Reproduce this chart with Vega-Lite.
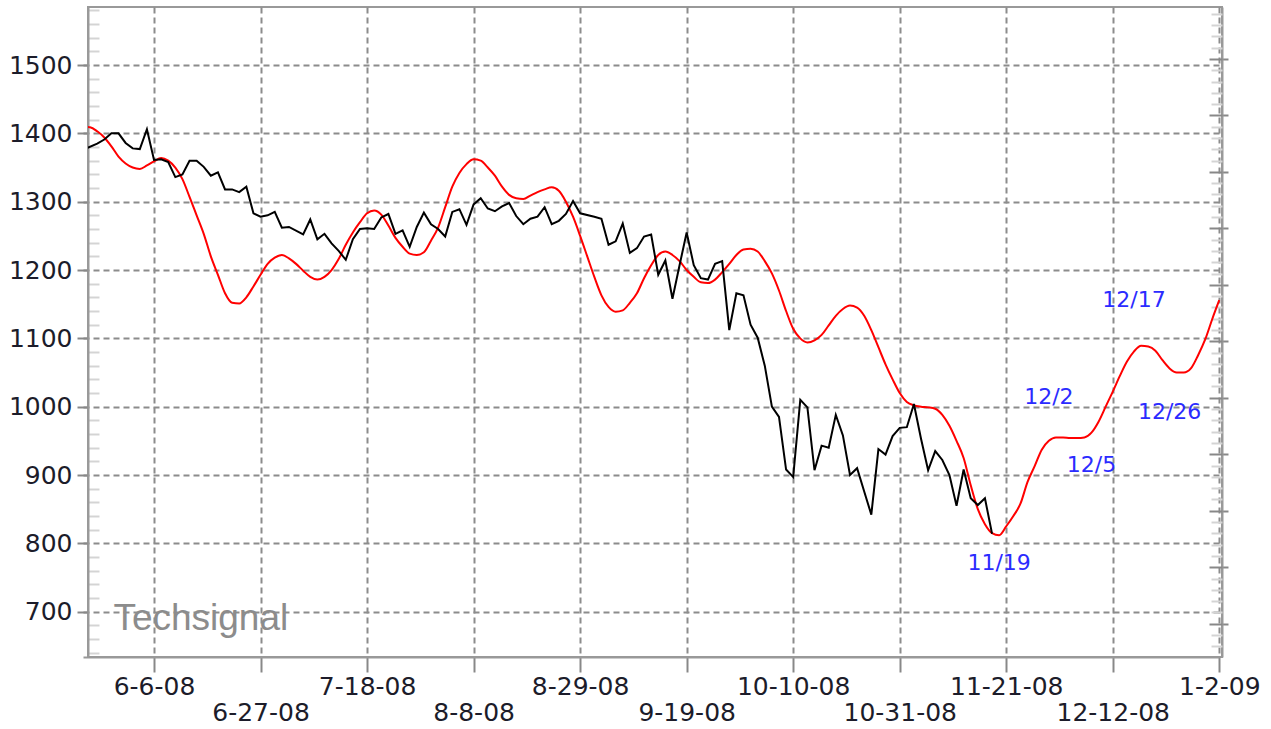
{
  "$schema": "https://vega.github.io/schema/vega-lite/v6.json",
  "width": 1134,
  "height": 650,
  "autosize": "none",
  "padding": {"left": 88, "top": 7, "right": 49, "bottom": 72},
  "background": "white",
  "config": {
    "view": {"stroke": "#999999", "strokeWidth": 2},
    "font": "DejaVu Sans",
    "axis": {"labelFont": "DejaVu Sans"}
  },
  "datasets": {
    "sp": [
      {"date": "2008-05-23", "value": 1376}, {"date": "2008-05-27", "value": 1385}, {"date": "2008-05-28", "value": 1391}, {"date": "2008-05-29", "value": 1400}, {"date": "2008-05-30", "value": 1400},
      {"date": "2008-06-02", "value": 1386}, {"date": "2008-06-03", "value": 1378}, {"date": "2008-06-04", "value": 1377}, {"date": "2008-06-05", "value": 1406}, {"date": "2008-06-06", "value": 1361},
      {"date": "2008-06-09", "value": 1362}, {"date": "2008-06-10", "value": 1358}, {"date": "2008-06-11", "value": 1336}, {"date": "2008-06-12", "value": 1340}, {"date": "2008-06-13", "value": 1360},
      {"date": "2008-06-16", "value": 1360}, {"date": "2008-06-17", "value": 1351}, {"date": "2008-06-18", "value": 1338}, {"date": "2008-06-19", "value": 1343}, {"date": "2008-06-20", "value": 1318},
      {"date": "2008-06-23", "value": 1318}, {"date": "2008-06-24", "value": 1314}, {"date": "2008-06-25", "value": 1322}, {"date": "2008-06-26", "value": 1283}, {"date": "2008-06-27", "value": 1278},
      {"date": "2008-06-30", "value": 1280}, {"date": "2008-07-01", "value": 1285}, {"date": "2008-07-02", "value": 1262}, {"date": "2008-07-03", "value": 1263},
      {"date": "2008-07-07", "value": 1252}, {"date": "2008-07-08", "value": 1274}, {"date": "2008-07-09", "value": 1245}, {"date": "2008-07-10", "value": 1253}, {"date": "2008-07-11", "value": 1239},
      {"date": "2008-07-14", "value": 1228}, {"date": "2008-07-15", "value": 1215}, {"date": "2008-07-16", "value": 1245}, {"date": "2008-07-17", "value": 1260}, {"date": "2008-07-18", "value": 1261},
      {"date": "2008-07-21", "value": 1260}, {"date": "2008-07-22", "value": 1277}, {"date": "2008-07-23", "value": 1282}, {"date": "2008-07-24", "value": 1253}, {"date": "2008-07-25", "value": 1258},
      {"date": "2008-07-28", "value": 1234}, {"date": "2008-07-29", "value": 1263}, {"date": "2008-07-30", "value": 1284}, {"date": "2008-07-31", "value": 1267}, {"date": "2008-08-01", "value": 1260},
      {"date": "2008-08-04", "value": 1249}, {"date": "2008-08-05", "value": 1285}, {"date": "2008-08-06", "value": 1289}, {"date": "2008-08-07", "value": 1266}, {"date": "2008-08-08", "value": 1296},
      {"date": "2008-08-11", "value": 1305}, {"date": "2008-08-12", "value": 1290}, {"date": "2008-08-13", "value": 1286}, {"date": "2008-08-14", "value": 1293}, {"date": "2008-08-15", "value": 1298},
      {"date": "2008-08-18", "value": 1279}, {"date": "2008-08-19", "value": 1267}, {"date": "2008-08-20", "value": 1275}, {"date": "2008-08-21", "value": 1278}, {"date": "2008-08-22", "value": 1292},
      {"date": "2008-08-25", "value": 1267}, {"date": "2008-08-26", "value": 1272}, {"date": "2008-08-27", "value": 1282}, {"date": "2008-08-28", "value": 1301}, {"date": "2008-08-29", "value": 1283},
      {"date": "2008-09-02", "value": 1278}, {"date": "2008-09-03", "value": 1275}, {"date": "2008-09-04", "value": 1237}, {"date": "2008-09-05", "value": 1242},
      {"date": "2008-09-08", "value": 1268}, {"date": "2008-09-09", "value": 1225}, {"date": "2008-09-10", "value": 1232}, {"date": "2008-09-11", "value": 1249}, {"date": "2008-09-12", "value": 1252},
      {"date": "2008-09-15", "value": 1193}, {"date": "2008-09-16", "value": 1214}, {"date": "2008-09-17", "value": 1158}, {"date": "2008-09-18", "value": 1207}, {"date": "2008-09-19", "value": 1255},
      {"date": "2008-09-22", "value": 1207}, {"date": "2008-09-23", "value": 1188}, {"date": "2008-09-24", "value": 1186}, {"date": "2008-09-25", "value": 1209}, {"date": "2008-09-26", "value": 1213},
      {"date": "2008-09-29", "value": 1112}, {"date": "2008-09-30", "value": 1166}, {"date": "2008-10-01", "value": 1163}, {"date": "2008-10-02", "value": 1120}, {"date": "2008-10-03", "value": 1101},
      {"date": "2008-10-06", "value": 1060}, {"date": "2008-10-07", "value": 1000}, {"date": "2008-10-08", "value": 985}, {"date": "2008-10-09", "value": 908}, {"date": "2008-10-10", "value": 897},
      {"date": "2008-10-13", "value": 1010}, {"date": "2008-10-14", "value": 999}, {"date": "2008-10-15", "value": 907}, {"date": "2008-10-16", "value": 943}, {"date": "2008-10-17", "value": 940},
      {"date": "2008-10-20", "value": 988}, {"date": "2008-10-21", "value": 958}, {"date": "2008-10-22", "value": 900}, {"date": "2008-10-23", "value": 910}, {"date": "2008-10-24", "value": 876},
      {"date": "2008-10-27", "value": 842}, {"date": "2008-10-28", "value": 938}, {"date": "2008-10-29", "value": 930}, {"date": "2008-10-30", "value": 957}, {"date": "2008-10-31", "value": 969},
      {"date": "2008-11-03", "value": 970}, {"date": "2008-11-04", "value": 1004}, {"date": "2008-11-05", "value": 953}, {"date": "2008-11-06", "value": 907}, {"date": "2008-11-07", "value": 935},
      {"date": "2008-11-10", "value": 922}, {"date": "2008-11-11", "value": 900}, {"date": "2008-11-12", "value": 855}, {"date": "2008-11-13", "value": 908}, {"date": "2008-11-14", "value": 866},
      {"date": "2008-11-17", "value": 856}, {"date": "2008-11-18", "value": 866}, {"date": "2008-11-19", "value": 814}
    ],
    "fc": [
      {"date": "2008-05-23", "value": 1410}, {"date": "2008-05-26", "value": 1409}, {"date": "2008-05-27", "value": 1403}, {"date": "2008-05-28", "value": 1394}, {"date": "2008-05-29", "value": 1381}, {"date": "2008-05-30", "value": 1366},
      {"date": "2008-06-02", "value": 1356}, {"date": "2008-06-03", "value": 1350}, {"date": "2008-06-04", "value": 1348}, {"date": "2008-06-05", "value": 1353}, {"date": "2008-06-06", "value": 1359},
      {"date": "2008-06-09", "value": 1364}, {"date": "2008-06-10", "value": 1360}, {"date": "2008-06-11", "value": 1350}, {"date": "2008-06-12", "value": 1333}, {"date": "2008-06-13", "value": 1307},
      {"date": "2008-06-16", "value": 1280}, {"date": "2008-06-17", "value": 1253}, {"date": "2008-06-18", "value": 1220}, {"date": "2008-06-19", "value": 1193}, {"date": "2008-06-20", "value": 1166},
      {"date": "2008-06-23", "value": 1152}, {"date": "2008-06-24", "value": 1151}, {"date": "2008-06-25", "value": 1160}, {"date": "2008-06-26", "value": 1176}, {"date": "2008-06-27", "value": 1193},
      {"date": "2008-06-30", "value": 1209}, {"date": "2008-07-01", "value": 1218}, {"date": "2008-07-02", "value": 1222}, {"date": "2008-07-03", "value": 1217}, {"date": "2008-07-04", "value": 1209},
      {"date": "2008-07-07", "value": 1199}, {"date": "2008-07-08", "value": 1190}, {"date": "2008-07-09", "value": 1186}, {"date": "2008-07-10", "value": 1190}, {"date": "2008-07-11", "value": 1200},
      {"date": "2008-07-14", "value": 1216}, {"date": "2008-07-15", "value": 1237}, {"date": "2008-07-16", "value": 1255}, {"date": "2008-07-17", "value": 1270}, {"date": "2008-07-18", "value": 1283},
      {"date": "2008-07-21", "value": 1287}, {"date": "2008-07-22", "value": 1281}, {"date": "2008-07-23", "value": 1265}, {"date": "2008-07-24", "value": 1247}, {"date": "2008-07-25", "value": 1234},
      {"date": "2008-07-28", "value": 1224}, {"date": "2008-07-29", "value": 1222}, {"date": "2008-07-30", "value": 1226}, {"date": "2008-07-31", "value": 1243}, {"date": "2008-08-01", "value": 1262},
      {"date": "2008-08-04", "value": 1292}, {"date": "2008-08-05", "value": 1322}, {"date": "2008-08-06", "value": 1342}, {"date": "2008-08-07", "value": 1355}, {"date": "2008-08-08", "value": 1362},
      {"date": "2008-08-11", "value": 1360}, {"date": "2008-08-12", "value": 1350}, {"date": "2008-08-13", "value": 1338}, {"date": "2008-08-14", "value": 1322}, {"date": "2008-08-15", "value": 1310},
      {"date": "2008-08-18", "value": 1305}, {"date": "2008-08-19", "value": 1304}, {"date": "2008-08-20", "value": 1309}, {"date": "2008-08-21", "value": 1314}, {"date": "2008-08-22", "value": 1318},
      {"date": "2008-08-25", "value": 1321}, {"date": "2008-08-26", "value": 1316}, {"date": "2008-08-27", "value": 1300}, {"date": "2008-08-28", "value": 1278}, {"date": "2008-08-29", "value": 1250},
      {"date": "2008-09-01", "value": 1220}, {"date": "2008-09-02", "value": 1190}, {"date": "2008-09-03", "value": 1163}, {"date": "2008-09-04", "value": 1146}, {"date": "2008-09-05", "value": 1139},
      {"date": "2008-09-08", "value": 1141}, {"date": "2008-09-09", "value": 1152}, {"date": "2008-09-10", "value": 1166}, {"date": "2008-09-11", "value": 1188}, {"date": "2008-09-12", "value": 1207},
      {"date": "2008-09-15", "value": 1222}, {"date": "2008-09-16", "value": 1227}, {"date": "2008-09-17", "value": 1222}, {"date": "2008-09-18", "value": 1213}, {"date": "2008-09-19", "value": 1200},
      {"date": "2008-09-22", "value": 1190}, {"date": "2008-09-23", "value": 1182}, {"date": "2008-09-24", "value": 1181}, {"date": "2008-09-25", "value": 1186}, {"date": "2008-09-26", "value": 1197},
      {"date": "2008-09-29", "value": 1209}, {"date": "2008-09-30", "value": 1222}, {"date": "2008-10-01", "value": 1230}, {"date": "2008-10-02", "value": 1231}, {"date": "2008-10-03", "value": 1227},
      {"date": "2008-10-06", "value": 1213}, {"date": "2008-10-07", "value": 1195}, {"date": "2008-10-08", "value": 1170}, {"date": "2008-10-09", "value": 1140}, {"date": "2008-10-10", "value": 1114},
      {"date": "2008-10-13", "value": 1100}, {"date": "2008-10-14", "value": 1094}, {"date": "2008-10-15", "value": 1097}, {"date": "2008-10-16", "value": 1105}, {"date": "2008-10-17", "value": 1119},
      {"date": "2008-10-20", "value": 1133}, {"date": "2008-10-21", "value": 1143}, {"date": "2008-10-22", "value": 1148}, {"date": "2008-10-23", "value": 1145}, {"date": "2008-10-24", "value": 1133},
      {"date": "2008-10-27", "value": 1112}, {"date": "2008-10-28", "value": 1087}, {"date": "2008-10-29", "value": 1062}, {"date": "2008-10-30", "value": 1040}, {"date": "2008-10-31", "value": 1020},
      {"date": "2008-11-03", "value": 1007}, {"date": "2008-11-04", "value": 1002}, {"date": "2008-11-05", "value": 1000}, {"date": "2008-11-06", "value": 999}, {"date": "2008-11-07", "value": 997},
      {"date": "2008-11-10", "value": 988}, {"date": "2008-11-11", "value": 972}, {"date": "2008-11-12", "value": 950}, {"date": "2008-11-13", "value": 925}, {"date": "2008-11-14", "value": 885},
      {"date": "2008-11-17", "value": 850}, {"date": "2008-11-18", "value": 828}, {"date": "2008-11-19", "value": 815}, {"date": "2008-11-20", "value": 812}, {"date": "2008-11-21", "value": 825},
      {"date": "2008-11-24", "value": 840}, {"date": "2008-11-25", "value": 858}, {"date": "2008-11-26", "value": 890}, {"date": "2008-11-27", "value": 913}, {"date": "2008-11-28", "value": 937},
      {"date": "2008-12-01", "value": 950}, {"date": "2008-12-02", "value": 955}, {"date": "2008-12-03", "value": 955}, {"date": "2008-12-04", "value": 954}, {"date": "2008-12-05", "value": 954},
      {"date": "2008-12-08", "value": 955}, {"date": "2008-12-09", "value": 962}, {"date": "2008-12-10", "value": 978}, {"date": "2008-12-11", "value": 1000}, {"date": "2008-12-12", "value": 1022},
      {"date": "2008-12-15", "value": 1045}, {"date": "2008-12-16", "value": 1066}, {"date": "2008-12-17", "value": 1081}, {"date": "2008-12-18", "value": 1089}, {"date": "2008-12-19", "value": 1088},
      {"date": "2008-12-22", "value": 1082}, {"date": "2008-12-23", "value": 1068}, {"date": "2008-12-24", "value": 1056}, {"date": "2008-12-25", "value": 1050}, {"date": "2008-12-26", "value": 1050},
      {"date": "2008-12-29", "value": 1056}, {"date": "2008-12-30", "value": 1075}, {"date": "2008-12-31", "value": 1098}, {"date": "2009-01-01", "value": 1128}, {"date": "2009-01-02", "value": 1156}
    ],
    "notes": [
      {"date": "2008-11-20", "value": 771, "label": "11/19"},
      {"date": "2008-12-01", "value": 1014, "label": "12/2"},
      {"date": "2008-12-09", "value": 915, "label": "12/5"},
      {"date": "2008-12-17", "value": 1156, "label": "12/17"},
      {"date": "2008-12-24", "value": 992, "label": "12/26"}
    ],
    "brand": [
      {"date": "2008-05-29", "value": 673, "label": "Techsignal"}
    ],
    "rightaxis": [{"v": 0}]
  },
  "layer": [
    {
      "encoding": {
        "x": {
          "field": "date",
          "type": "ordinal",
          "sort": null,
          "scale": {
            "type": "point",
            "padding": 0,
            "range": [-5, 1131.3],
            "domain": [
              "2008-05-23",
              "2008-05-26", "2008-05-27", "2008-05-28", "2008-05-29", "2008-05-30",
              "2008-06-02", "2008-06-03", "2008-06-04", "2008-06-05", "2008-06-06",
              "2008-06-09", "2008-06-10", "2008-06-11", "2008-06-12", "2008-06-13",
              "2008-06-16", "2008-06-17", "2008-06-18", "2008-06-19", "2008-06-20",
              "2008-06-23", "2008-06-24", "2008-06-25", "2008-06-26", "2008-06-27",
              "2008-06-30", "2008-07-01", "2008-07-02", "2008-07-03", "2008-07-04",
              "2008-07-07", "2008-07-08", "2008-07-09", "2008-07-10", "2008-07-11",
              "2008-07-14", "2008-07-15", "2008-07-16", "2008-07-17", "2008-07-18",
              "2008-07-21", "2008-07-22", "2008-07-23", "2008-07-24", "2008-07-25",
              "2008-07-28", "2008-07-29", "2008-07-30", "2008-07-31", "2008-08-01",
              "2008-08-04", "2008-08-05", "2008-08-06", "2008-08-07", "2008-08-08",
              "2008-08-11", "2008-08-12", "2008-08-13", "2008-08-14", "2008-08-15",
              "2008-08-18", "2008-08-19", "2008-08-20", "2008-08-21", "2008-08-22",
              "2008-08-25", "2008-08-26", "2008-08-27", "2008-08-28", "2008-08-29",
              "2008-09-01", "2008-09-02", "2008-09-03", "2008-09-04", "2008-09-05",
              "2008-09-08", "2008-09-09", "2008-09-10", "2008-09-11", "2008-09-12",
              "2008-09-15", "2008-09-16", "2008-09-17", "2008-09-18", "2008-09-19",
              "2008-09-22", "2008-09-23", "2008-09-24", "2008-09-25", "2008-09-26",
              "2008-09-29", "2008-09-30", "2008-10-01", "2008-10-02", "2008-10-03",
              "2008-10-06", "2008-10-07", "2008-10-08", "2008-10-09", "2008-10-10",
              "2008-10-13", "2008-10-14", "2008-10-15", "2008-10-16", "2008-10-17",
              "2008-10-20", "2008-10-21", "2008-10-22", "2008-10-23", "2008-10-24",
              "2008-10-27", "2008-10-28", "2008-10-29", "2008-10-30", "2008-10-31",
              "2008-11-03", "2008-11-04", "2008-11-05", "2008-11-06", "2008-11-07",
              "2008-11-10", "2008-11-11", "2008-11-12", "2008-11-13", "2008-11-14",
              "2008-11-17", "2008-11-18", "2008-11-19", "2008-11-20", "2008-11-21",
              "2008-11-24", "2008-11-25", "2008-11-26", "2008-11-27", "2008-11-28",
              "2008-12-01", "2008-12-02", "2008-12-03", "2008-12-04", "2008-12-05",
              "2008-12-08", "2008-12-09", "2008-12-10", "2008-12-11", "2008-12-12",
              "2008-12-15", "2008-12-16", "2008-12-17", "2008-12-18", "2008-12-19",
              "2008-12-22", "2008-12-23", "2008-12-24", "2008-12-25", "2008-12-26",
              "2008-12-29", "2008-12-30", "2008-12-31", "2009-01-01", "2009-01-02"
            ]
          },
          "axis": {
            "title": null,
            "values": ["2008-06-06", "2008-06-27", "2008-07-18", "2008-08-08", "2008-08-29", "2008-09-19", "2008-10-10", "2008-10-31", "2008-11-21", "2008-12-12", "2009-01-02"],
            "labelExpr": "utcFormat(toDate(datum.value), '%-m-%-d-%y')",
            "labelAngle": 0,
            "labelOverlap": false,
            "labelFontSize": 25,
            "labelColor": "#1c1c2a",
            "labelBaseline": "top",
            "labelPadding": {"condition": {"test": "indexof(['2008-06-27','2008-08-08','2008-09-19','2008-10-31','2008-12-12'], datum.value) >= 0", "value": 28}, "value": 2},
            "tickSize": 15,
            "tickColor": "#888888",
            "tickWidth": 2,
            "domainColor": "#999999",
            "domainWidth": 2,
            "grid": true,
            "gridColor": "#8c8c8c",
            "gridDash": [6, 4],
            "gridWidth": 2
          }
        },
        "y": {
          "field": "value",
          "type": "quantitative",
          "scale": {"domain": [633.7, 1584.9], "nice": false, "zero": false},
          "axis": {
            "orient": "left",
            "title": null,
            "values": [640, 660, 680, 700, 720, 740, 760, 780, 800, 820, 840, 860, 880, 900, 920, 940, 960, 980, 1000, 1020, 1040, 1060, 1080, 1100, 1120, 1140, 1160, 1180, 1200, 1220, 1240, 1260, 1280, 1300, 1320, 1340, 1360, 1380, 1400, 1420, 1440, 1460, 1480, 1500, 1520, 1540, 1560, 1580],
            "format": "d",
            "labelExpr": "datum.value % 100 === 0 ? datum.label : ''",
            "labelFontSize": 25,
            "labelColor": "#1c1c2a",
            "labelPadding": 5,
            "tickSize": {"condition": {"test": "datum.value % 100 === 0", "value": 11}, "value": -11},
            "tickColor": {"condition": {"test": "datum.value % 100 === 0", "value": "#888888"}, "value": "#d4d4d4"},
            "tickWidth": 2,
            "domainColor": "#999999",
            "domainWidth": 2,
            "grid": true,
            "gridColor": "#8c8c8c",
            "gridDash": [6, 4],
            "gridWidth": 2,
            "gridOpacity": {"condition": {"test": "datum.value % 100 === 0", "value": 1}, "value": 0}
          }
        }
      },
      "layer": [
        {
          "data": {"name": "fc"},
          "mark": {"type": "line", "color": "#ff0000", "strokeWidth": 2, "interpolate": "monotone", "clip": true}
        },
        {
          "data": {"name": "sp"},
          "mark": {"type": "line", "color": "#000000", "strokeWidth": 2, "clip": true}
        },
        {
          "data": {"name": "notes"},
          "mark": {"type": "text", "font": "DejaVu Sans", "fontSize": 22, "color": "#2b2bff", "align": "center", "baseline": "middle"},
          "encoding": {"text": {"field": "label"}}
        },
        {
          "data": {"name": "brand"},
          "mark": {"type": "text", "font": "Liberation Sans", "fontSize": 37, "color": "#8c8c8c", "align": "left", "baseline": "alphabetic", "dx": 2},
          "encoding": {"text": {"field": "label"}}
        }
      ]
    },
    {
      "data": {"name": "rightaxis"},
      "mark": {"type": "point", "opacity": 0},
      "encoding": {
        "y": {
          "field": "v",
          "type": "quantitative",
          "scale": {"domain": [-5.9, 109.2], "nice": false, "zero": false},
          "axis": {
            "orient": "right",
            "title": null,
            "labels": false,
            "grid": false,
            "values": [0, 10, 20, 30, 40, 50, 60, 70, 80, 90, 100],
            "tickSize": 6,
            "tickColor": "#888888",
            "tickWidth": 2,
            "domainColor": "#999999",
            "domainWidth": 2
          }
        }
      }
    },
    {
      "data": {"name": "rightaxis"},
      "mark": {"type": "point", "opacity": 0},
      "encoding": {
        "y": {
          "field": "v",
          "type": "quantitative",
          "scale": {"domain": [-5.9, 109.2], "nice": false, "zero": false},
          "axis": {
            "orient": "right",
            "title": null,
            "labels": false,
            "grid": false,
            "domain": false,
            "values": [-4, -2, 0, 2, 4, 6, 8, 10, 12, 14, 16, 18, 20, 22, 24, 26, 28, 30, 32, 34, 36, 38, 40, 42, 44, 46, 48, 50, 52, 54, 56, 58, 60, 62, 64, 66, 68, 70, 72, 74, 76, 78, 80, 82, 84, 86, 88, 90, 92, 94, 96, 98, 100, 102, 104, 106, 108],
            "tickSize": {"condition": {"test": "datum.value % 10 === 0", "value": -13}, "value": -11},
            "tickColor": {"condition": {"test": "datum.value % 10 === 0", "value": "#888888"}, "value": "#d4d4d4"},
            "tickWidth": 2
          }
        }
      }
    }
  ],
  "resolve": {"scale": {"y": "independent"}}
}
